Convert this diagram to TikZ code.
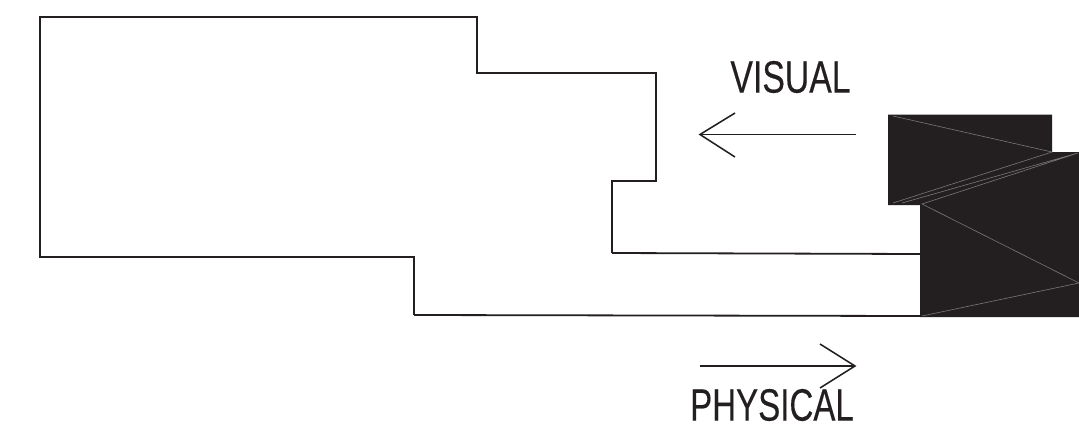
\documentclass[tikz,border=0pt]{standalone}
\usepackage{fontspec}
\usepackage{graphicx}
\setmainfont[FakeBold=0.35]{Liberation Sans}
\definecolor{ink}{HTML}{231F20}
\definecolor{seam}{HTML}{77787A}
\tikzset{
  outline/.style={draw=ink,line width=0.8pt,line join=miter},
  heavy outline/.style={draw=ink,line width=1.35pt},
  solid mass/.style={fill=ink,draw=none},
  seamline/.style={draw=seam,line width=0.45pt},
  arrowline/.style={draw=ink,line width=1.15pt,line join=miter},
  label text/.style={text=ink,inner sep=0pt,font=\fontsize{34}{34}\selectfont}
}
\begin{document}
\begin{tikzpicture}[x=0.75pt,y=-0.75pt]
\useasboundingbox (0,0) rectangle (1079,440);
\fill[white] (0,0) rectangle (1079,440);
% room outline
\draw[outline] (612,253) -- (612,181) -- (656,181) -- (656,73) -- (477,73) -- (477,17) -- (40,17) -- (40,257) -- (414,257) -- (414,315);
\draw[heavy outline] (920,254) -- (612,253);
\draw[heavy outline] (414,315) -- (920,316);
% solid block
\path[solid mass] (888,114.5) -- (1052,114.5) -- (1052,152) -- (1079,152) -- (1079,317) -- (920,317) -- (920,205) -- (888,205) -- cycle;
\draw[seamline] (893,116) -- (1052,152) -- (893,203);
\draw[seamline] (902,203) -- (1078,153) -- (922,204) -- (1079,283) -- (922,316);
% visual arrow
\coordinate (vs) at (856,134.5);
\coordinate (vt) at (700,134.5);
\coordinate (va) at (735,113);
\coordinate (vb) at (735,157);
\draw[arrowline] (vs) -- (vt);
\draw[arrowline] (va) -- (vt) -- (vb);
% physical arrow
\coordinate (ps) at (700,366);
\coordinate (pt) at (855,366);
\coordinate (pa) at (820,344);
\coordinate (pb) at (820,388);
\draw[arrowline] (ps) -- (pt);
\draw[arrowline] (pa) -- (pt) -- (pb);
% labels
\node[label text] (visual) at (790.5,77) {\scalebox{0.745}[1]{VISUAL}};
\node[label text] (physical) at (772,405) {\scalebox{0.73}[1]{PHYSICAL}};
\end{tikzpicture}
\end{document}
